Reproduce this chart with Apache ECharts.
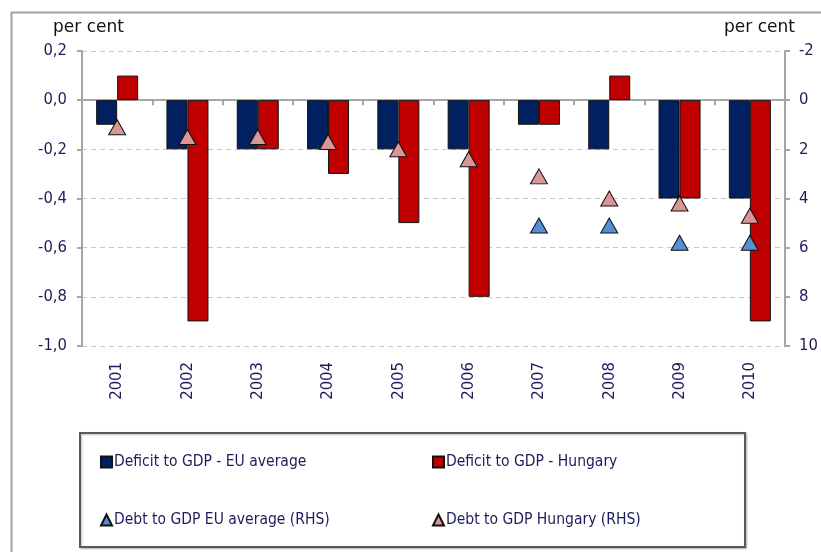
<!DOCTYPE html>
<html>
<head>
<meta charset="utf-8">
<script src="https://cdn.jsdelivr.net/npm/echarts@6/dist/echarts.min.js"></script>
<style>
  html, body { margin: 0; padding: 0; background: #fff; }
  #chart { width: 821px; height: 552px; }
</style>
</head>
<body>
<div id="chart"></div>
<script>
  // years on the x axis
  const years = ['2001', '2002', '2003', '2004', '2005', '2006', '2007', '2008', '2009', '2010'];
  // deficit to GDP, left axis (per cent)
  const deficitEU = [-0.1, -0.2, -0.2, -0.2, -0.2, -0.2, -0.1, -0.2, -0.4, -0.4];
  const deficitHU = [0.1, -0.9, -0.2, -0.3, -0.5, -0.8, -0.1, 0.1, -0.4, -0.9];
  // debt to GDP, right axis (per cent, inverted)
  const debtEU = [null, null, null, null, null, null, 5.1, 5.1, 5.8, 5.8];
  const debtHU = [1.1, 1.5, 1.5, 1.7, 2.0, 2.4, 3.1, 4.0, 4.2, 4.7];

  const names = [
    'Deficit to GDP - EU average',
    'Deficit to GDP - Hungary',
    'Debt to GDP EU average (RHS)',
    'Debt to GDP Hungary (RHS)'
  ];

  const txtColor = '#1c1c5c';
  const font = "'Liberation Sans Narrow', 'DejaVu Sans Condensed', 'Liberation Sans', sans-serif";
  const axisGray = '#a6a6a6';

  const myChart = echarts.init(document.getElementById('chart'));

  // one legend per item so the two columns line up like the original box
  function legendAt(name, icon, left, top) {
    return {
      data: [name],
      left: left,
      top: top,
      icon: icon,
      itemWidth: 11,
      itemHeight: 11,
      itemGap: 0,
      padding: 0,
      selectedMode: false,
      textStyle: { color: txtColor, fontSize: 15.5, fontFamily: font, padding: [0, 0, 0, -3] }
    };
  }

  const option = {
    backgroundColor: '#fff',
    animation: false,
    textStyle: { fontFamily: font },
    grid: { left: 82, right: 36, top: 51, bottom: 206 },
    graphic: [
      { // outer frame
        type: 'rect', left: 9, top: 10, z: -1,
        shape: { width: 840, height: 580 },
        style: { fill: 'none', stroke: '#a0a0a0', lineWidth: 2 }
      },
      { // legend box
        type: 'rect', left: 79, top: 432, z: -1,
        shape: { width: 665, height: 114 },
        style: { fill: '#fff', stroke: '#595959', lineWidth: 2, shadowColor: 'rgba(0,0,0,0.25)', shadowOffsetX: 1, shadowOffsetY: 1, shadowBlur: 2 }
      },
      { type: 'text', left: 53, top: 19, style: { text: 'per cent', fill: '#111', font: "17px 'DejaVu Sans', sans-serif" } },
      { type: 'text', left: 724, top: 19, style: { text: 'per cent', fill: '#111', font: "17px 'DejaVu Sans', sans-serif" } }
    ],
    legend: [
      legendAt(names[0], 'rect', 100, 454),
      legendAt(names[1], 'rect', 432, 454),
      legendAt(names[2], 'triangle', 100, 512),
      legendAt(names[3], 'triangle', 432, 512)
    ],
    xAxis: [
      {
        type: 'category',
        data: years,
        position: 'bottom',
        axisLine: { show: false, onZero: false },
        axisTick: { show: false },
        axisLabel: { rotate: 90, margin: 16, color: txtColor, fontSize: 16.5, fontFamily: font }
      },
      {
        // zero line with the category ticks
        type: 'category',
        data: years,
        position: 'bottom',
        axisLine: { onZero: true, onZeroAxisIndex: 0, lineStyle: { color: axisGray, width: 2 } },
        axisTick: { show: true, length: 5, inside: false, lineStyle: { color: axisGray, width: 2 } },
        axisLabel: { show: false }
      }
    ],
    yAxis: [
      {
        type: 'value',
        min: -1,
        max: 0.2,
        interval: 0.2,
        axisLine: { show: true, lineStyle: { color: axisGray, width: 2 } },
        axisTick: { show: true, length: 5, lineStyle: { color: axisGray, width: 2 } },
        axisLabel: {
          color: txtColor, fontSize: 16.5, fontFamily: font, margin: 15,
          formatter: v => v.toFixed(1).replace('.', ',')
        },
        splitLine: { show: true, lineStyle: { color: '#c8c8c8', type: [5, 4], width: 1 } }
      },
      {
        type: 'value',
        position: 'right',
        inverse: true,
        min: -2,
        max: 10,
        interval: 2,
        axisLine: { show: true, lineStyle: { color: axisGray, width: 2 } },
        axisTick: { show: true, length: 5, lineStyle: { color: axisGray, width: 2 } },
        axisLabel: { color: txtColor, fontSize: 16.5, fontFamily: font, margin: 14 },
        splitLine: { show: false }
      }
    ],
    series: [
      {
        name: names[0], type: 'bar', data: deficitEU,
        barWidth: 21, barGap: '0%',
        itemStyle: { color: '#002060', borderColor: '#111', borderWidth: 1 }
      },
      {
        name: names[1], type: 'bar', data: deficitHU,
        barWidth: 21, barGap: '0%',
        itemStyle: { color: '#c00000', borderColor: '#111', borderWidth: 1 }
      },
      {
        name: names[2], type: 'scatter', data: debtEU, yAxisIndex: 1,
        symbol: 'triangle', symbolSize: [17, 15],
        itemStyle: { color: '#558ed5', borderColor: '#111', borderWidth: 1, opacity: 1 }
      },
      {
        name: names[3], type: 'scatter', data: debtHU, yAxisIndex: 1,
        symbol: 'triangle', symbolSize: [17, 15],
        itemStyle: { color: '#d99694', borderColor: '#111', borderWidth: 1, opacity: 1 }
      }
    ]
  };

  myChart.setOption(option);
</script>
</body>
</html>
